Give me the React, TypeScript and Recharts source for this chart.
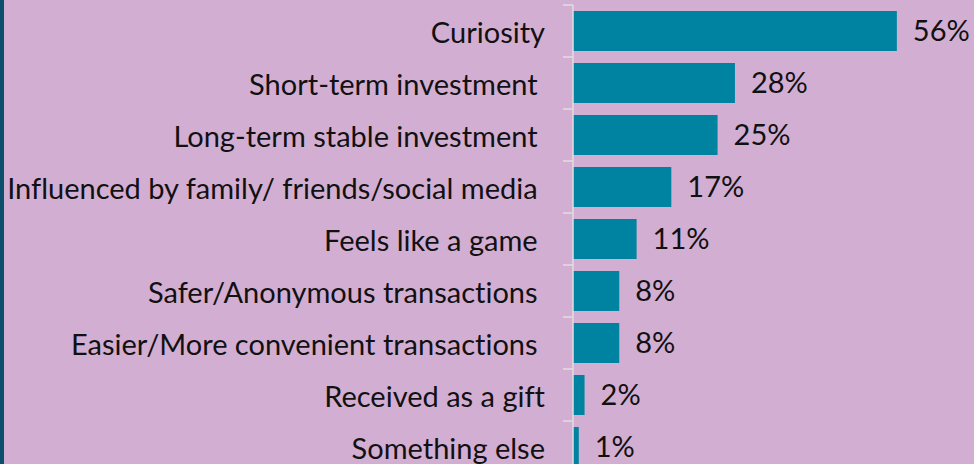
import { BarChart, Bar, XAxis, YAxis, LabelList } from 'recharts';

const reasons = [
  'Curiosity',
  'Short-term investment ',
  'Long-term stable investment ',
  'Influenced by family/ friends/social media ',
  'Feels like a game ',
  'Safer/Anonymous transactions ',
  'Easier/More convenient transactions ',
  'Received as a gift',
  'Something else',
];

const shares = [56, 28, 25, 17, 11, 8, 8, 2, 1];

const data = reasons.map((reason, i) => ({ reason, share: shares[i] }));

const FONT = 'Lato, "Open Sans", sans-serif';

function ReasonTick(props: any) {
  const { x, y, payload } = props;
  const half = payload && payload.offset != null ? payload.offset : 26;
  return (
    <g>
      <line x1={x - 10} x2={x} y1={y - half} y2={y - half} stroke="#E2DCE2" strokeWidth={1.5} />
      <text
        x={x - 28}
        y={y}
        textAnchor="end"
        dominantBaseline="central"
        fill="#111"
        fontSize={29}
        fontFamily={FONT}
        style={{ whiteSpace: 'pre', fontVariantLigatures: 'none' }}
      >
        {payload.value}
      </text>
    </g>
  );
}

export default function App() {
  return (
    <div
      style={{
        position: 'fixed',
        left: 0,
        top: 0,
        width: 974,
        height: 464,
        overflow: 'hidden',
        background: '#D3AED3',
        fontVariantLigatures: 'none',
      }}
    >
      <div style={{ position: 'absolute', left: 0, top: 0, width: 4, height: 464, background: '#0B4F6C' }} />
      <BarChart
        width={974}
        height={480}
        data={data}
        layout="vertical"
        margin={{ top: 5, right: 54, bottom: 7, left: 0 }}
        barSize={40}
      >
        <XAxis type="number" domain={[0, 60]} hide />
        <YAxis
          type="category"
          dataKey="reason"
          width={573}
          tickSize={0}
          tickMargin={0}
          tickLine={false}
          axisLine={{ stroke: '#E2DCE2', strokeWidth: 1.5 }}
          tick={<ReasonTick />}
          interval={0}
        />
        <Bar dataKey="share" fill="#0083A1" isAnimationActive={false}>
          <LabelList
            dataKey="share"
            position="right"
            offset={16}
            formatter={(v: any) => `${v}%`}
            fill="#111"
            fontSize={29}
            fontFamily={FONT}
          />
        </Bar>
      </BarChart>
    </div>
  );
}
